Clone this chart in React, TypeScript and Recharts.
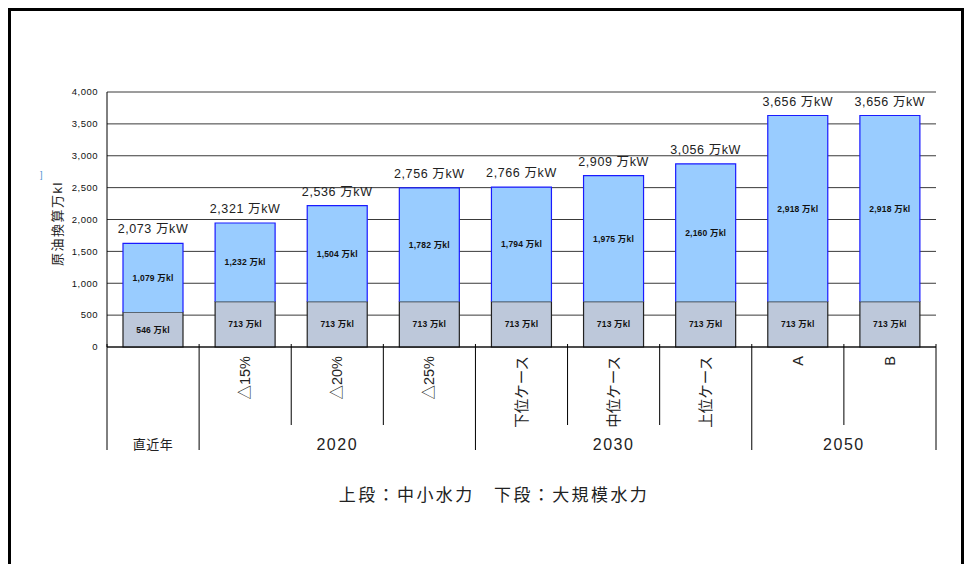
import { BarChart, Bar, XAxis, YAxis, CartesianGrid, LabelList } from 'recharts';

// ─── Data ──────────────────────────────────────────────────────────────────
const subLabels = ['', '△15%', '△20%', '△25%', '下位ケース', '中位ケース', '上位ケース', 'A', 'B'];
const groups = ['直近年', '2020', '2020', '2020', '2030', '2030', '2030', '2050', '2050'];
const largeHydro = [546, 713, 713, 713, 713, 713, 713, 713, 713];
const smallHydro = [1079, 1232, 1504, 1782, 1794, 1975, 2160, 2918, 2918];
const capacityLabels = [
  '2,073 万kW', '2,321 万kW', '2,536 万kW', '2,756 万kW', '2,766 万kW',
  '2,909 万kW', '3,056 万kW', '3,656 万kW', '3,656 万kW',
];
const yTicks = [0, 500, 1000, 1500, 2000, 2500, 3000, 3500, 4000];

const chartData = subLabels.map((sub, i) => ({
  key: String(i),
  sub,
  group: groups[i],
  large: largeHydro[i],
  small: smallHydro[i],
  cap: capacityLabels[i],
}));

const FONT = "'Liberation Sans', 'Noto Sans CJK JP', sans-serif";
const fmt = (v: number) => v.toLocaleString('en-US');

// ─── Multi-level category axis ────────────────────────────────────────────
const CategoryTick = (props: any) => {
  const { x, y, payload, index } = props;
  const half = payload?.offset ?? 46;
  const group = groups[index];
  const first = index === 0 || groups[index - 1] !== group;
  const last = index === groups.length - 1;
  const count = groups.filter((g) => g === group).length;
  const left = x - half;
  const sub = subLabels[index];
  return (
    <g>
      <line x1={left} x2={left} y1={y - 3} y2={y + (first ? 103 : 78)} stroke="#000" strokeWidth={1} />
      {last && <line x1={x + half} x2={x + half} y1={y - 3} y2={y + 103} stroke="#000" strokeWidth={1} />}
      {sub && (
        <text
          transform={`translate(${x},${y + 9}) rotate(-90)`}
          textAnchor="end"
          dominantBaseline="central"
          fontSize={14.5}
          fontFamily={FONT}
          fill="#222"
        >
          {sub}
        </text>
      )}
      {first && (
        <text
          x={left + count * half}
          y={y + 97}
          textAnchor="middle"
          dominantBaseline="central"
          fontSize={group === '直近年' ? 13 : 16}
          letterSpacing={group === '直近年' ? 0.5 : 1.5}
          fontFamily={FONT}
          fill="#222"
        >
          {group}
        </text>
      )}
    </g>
  );
};

// upper segment: blue outline on left/top/right only, so the dark top edge of the lower segment shows
const UpperShape = (props: any) => {
  const { x, y, width, height } = props;
  if (!height) return null;
  return (
    <g>
      <rect x={x} y={y} width={width} height={height} fill="#99ccff" />
      <path
        d={`M${x},${y + height} L${x},${y} L${x + width},${y} L${x + width},${y + height}`}
        fill="none"
        stroke="#1a1aff"
        strokeWidth={1.2}
      />
    </g>
  );
};

const CapLabel = (props: any) => {
  const vb = props.viewBox ?? props;
  const { x, y, width } = vb;
  return (
    <text
      x={x + width / 2}
      y={y - 14}
      textAnchor="middle"
      dominantBaseline="central"
      fontSize={12.5}
      letterSpacing={0.6}
      fontFamily={FONT}
      fill="#222"
    >
      {capacityLabels[props.index]}
    </text>
  );
};

const InnerLabel = (props: any) => {
  const vb = props.viewBox ?? props;
  const { x, y, width, height } = vb;
  return (
    <text
      x={x + width / 2}
      y={y + height / 2}
      textAnchor="middle"
      dominantBaseline="central"
      fontSize={8.5}
      fontWeight={700}
      letterSpacing={0.2}
      fontFamily={FONT}
      fill="#111"
    >
      {`${fmt(props.value)} 万kl`}
    </text>
  );
};

const YTitle = (props: any) => {
  const vb = props.viewBox ?? { x: 47, y: 92, height: 255 };
  const cx = vb.x + 10;
  const cy = vb.y + vb.height / 2 + 4;
  return (
    <text
      transform={`translate(${cx},${cy}) rotate(-90)`}
      textAnchor="middle"
      dominantBaseline="central"
      fontSize={13}
      letterSpacing={1.5}
      fontFamily={FONT}
      fill="#222"
    >
      原油換算万kl
    </text>
  );
};

export default function App() {
  return (
    <div style={{ position: 'absolute', left: 0, top: 0, width: 970, height: 564, background: '#fff', overflow: 'hidden' }}>
      <div
        style={{
          position: 'absolute', left: 8, top: 8, width: 956, height: 600,
          border: '3px solid #000', boxSizing: 'border-box',
        }}
      />
      <div style={{ position: 'absolute', left: 40, top: 170, fontSize: 9, color: '#4a8fd0', fontFamily: FONT }}>]</div>
      <div style={{ position: 'absolute', left: 0, top: 0 }}>
        <BarChart
          width={970}
          height={564}
          data={chartData}
          margin={{ top: 92, right: 34, left: 47, bottom: 107 }}
          barSize={60}
        >
          <CartesianGrid horizontal vertical={false} stroke="#3a3a3a" strokeWidth={1} />
          <XAxis
            dataKey="key"
            height={110}
            tick={<CategoryTick />}
            tickLine={false}
            tickSize={0}
            tickMargin={0}
            axisLine={{ stroke: '#000' }}
            interval={0}
          />
          <YAxis
            width={60}
            domain={[0, 4000]}
            ticks={yTicks}
            tickFormatter={fmt}
            tick={{ fontSize: 9.5, fill: '#111', fontFamily: FONT, letterSpacing: 0.5 }}
            tickLine={false}
            tickSize={0}
            tickMargin={9}
            axisLine={{ stroke: '#000' }}
            label={<YTitle />}
          />
          <YAxis yAxisId="r" orientation="right" width={0} tick={false} tickLine={false} axisLine={{ stroke: '#3a3a3a' }} />
          <Bar dataKey="large" stackId="a" fill="#bdc8da" stroke="#222" strokeWidth={1.2} isAnimationActive={false}>
            <LabelList dataKey="large" content={<InnerLabel />} />
          </Bar>
          <Bar dataKey="small" stackId="a" shape={<UpperShape />} isAnimationActive={false}>
            <LabelList dataKey="small" content={<InnerLabel />} />
            <LabelList dataKey="cap" content={<CapLabel />} />
          </Bar>
        </BarChart>
      </div>
      <div
        style={{
          position: 'absolute', left: 0, width: 988, top: 481, textAlign: 'center',
          fontSize: 17, letterSpacing: 2.4, color: '#222', fontFamily: FONT,
        }}
      >
        上段：中小水力　下段：大規模水力
      </div>
    </div>
  );
}
